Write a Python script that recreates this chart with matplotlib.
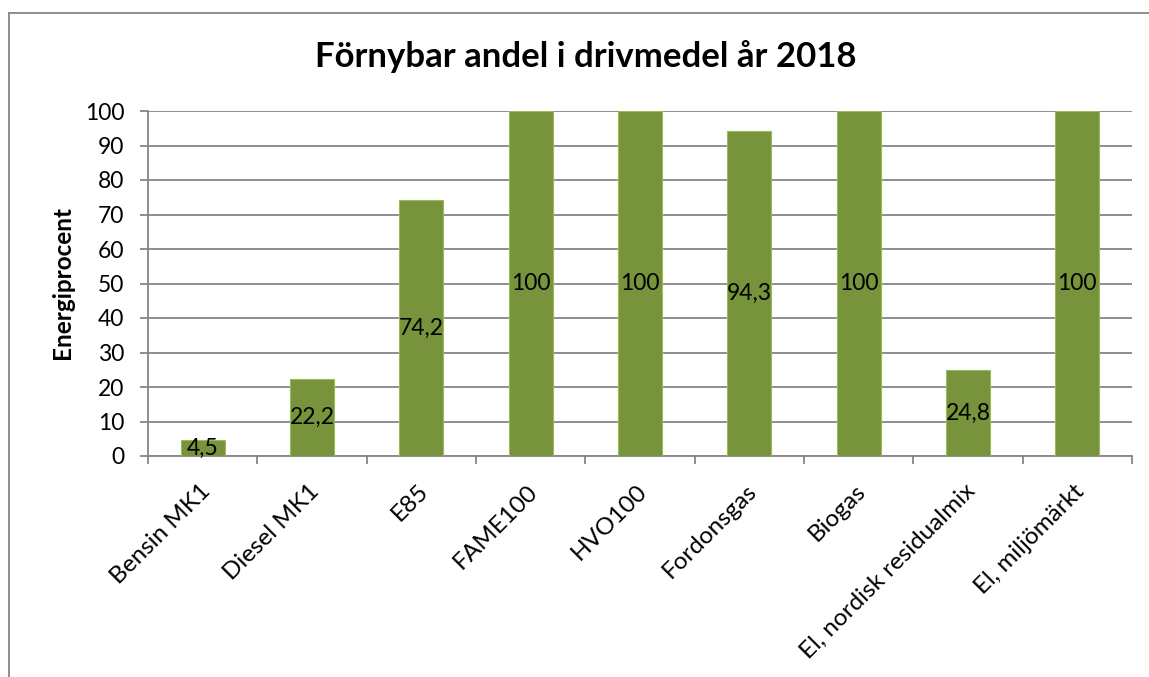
import matplotlib.pyplot as plt
from matplotlib.lines import Line2D
from matplotlib.transforms import ScaledTranslation

# Data
categories = ['Bensin MK1', 'Diesel MK1', 'E85', 'FAME100', 'HVO100',
              'Fordonsgas', 'Biogas', 'El, nordisk residualmix', 'El, miljömärkt']
values = [4.5, 22.2, 74.2, 100, 100, 94.3, 100, 24.8, 100]
value_labels = ['4,5', '22,2', '74,2', '100', '100', '94,3', '100', '24,8', '100']
yticks = list(range(0, 101, 10))

plt.rcParams['font.family'] = ['Lato', 'DejaVu Sans']

W, H = 1149, 677
fig = plt.figure(figsize=(W / 100, H / 100), dpi=100)
ax = fig.add_axes([148 / W, 1 - 456 / H, (1132 - 148) / W, (456 - 111) / H])

grey = '#868686'
green = '#77933C'

xs = range(len(categories))
ax.bar(xs, values, width=0.4, color=green, edgecolor='#9BBB59', linewidth=0.8, zorder=3)

for x, v, lab in zip(xs, values, value_labels):
    ax.text(x, v / 2, lab, ha='center', va='center', fontsize=16.5, color='black', zorder=4)

ax.set_xlim(-0.5, len(categories) - 0.5)
ax.set_ylim(0, 100)
ax.set_yticks(yticks)
ax.yaxis.grid(True, color=grey, linewidth=1.3, zorder=0)
ax.set_axisbelow(True)

for s in ['top', 'right']:
    ax.spines[s].set_visible(False)
for s in ['left', 'bottom']:
    ax.spines[s].set_color(grey)
    ax.spines[s].set_linewidth(1.3)

ax.tick_params(axis='y', length=6, width=1.3, color=grey, pad=11, labelsize=16.5)
ax.set_xticks([x - 0.5 for x in range(len(categories) + 1)], minor=False)
ax.set_xticklabels([])
ax.set_xticks(list(xs), minor=True)
ax.set_xticklabels(categories, minor=True, rotation=45, ha='right', va='center',
                   rotation_mode='anchor', fontsize=17.5)
ax.tick_params(axis='x', which='major', length=6, width=1.3, color=grey)
ax.tick_params(axis='x', which='minor', length=0, pad=23)
for lab in ax.get_xticklabels(minor=True):
    lab.set_transform(lab.get_transform() + ScaledTranslation(4 / 100, 0, fig.dpi_scale_trans))

fig.text(62 / W, 1 - 283 / H, 'Energiprocent', rotation=90, ha='center', va='center',
         fontsize=17.5, fontweight='bold')
fig.text(586 / W, 1 - 57 / H, 'Förnybar andel i drivmedel år 2018', ha='center', va='center',
         fontsize=25, fontweight='bold')

# chart area border (only left and top edges are inside the picture)
fig.add_artist(Line2D([8.5 / W, 8.5 / W], [0, 1 - 12.5 / H], color=grey, linewidth=1.3,
                      transform=fig.transFigure))
fig.add_artist(Line2D([8.5 / W, 1], [1 - 12.5 / H, 1 - 12.5 / H], color=grey, linewidth=1.3,
                      transform=fig.transFigure))

fig.savefig('out.png', dpi=100)
